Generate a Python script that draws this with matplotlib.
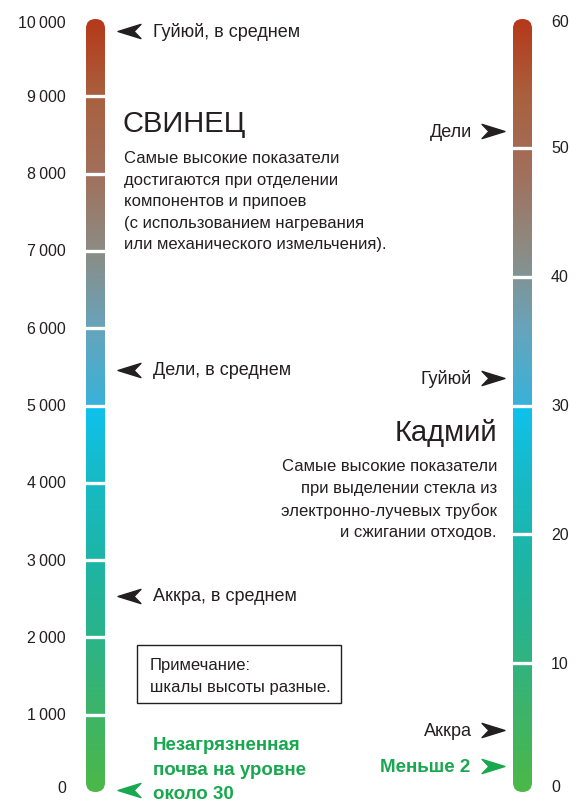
import matplotlib
matplotlib.use("Agg")
import matplotlib.pyplot as plt
import numpy as np
from matplotlib.colors import LinearSegmentedColormap
from matplotlib.patches import FancyBboxPatch, Rectangle
from matplotlib.path import Path

plt.rcParams['font.family'] = ['Liberation Sans', 'DejaVu Sans']

# Lead scale (left) and cadmium scale (right)
lead_ticks = [0, 1000, 2000, 3000, 4000, 5000, 6000, 7000, 8000, 9000, 10000]
lead_tick_labels = ["0", "1\u2009000", "2\u2009000", "3\u2009000", "4\u2009000", "5\u2009000",
                    "6\u2009000", "7\u2009000", "8\u2009000", "9\u2009000", "10\u2009000"]
lead_max = 10000
lead_marks = ["Гуйюй, в среднем", "Дели, в среднем", "Аккра, в среднем"]
lead_values = [9850, 5460, 2540]
lead_clean_label = "Незагрязненная\nпочва на уровне\nоколо 30"
lead_clean_value = 30

cad_ticks = [0, 10, 20, 30, 40, 50, 60]
cad_tick_labels = ["0", "10", "20", "30", "40", "50", "60"]
cad_max = 60
cad_marks = ["Дели", "Гуйюй", "Аккра"]
cad_values = [51.3, 32.1, 4.8]
cad_clean_label = "Меньше 2"
cad_clean_value = 2

W, H = 581, 803
fig = plt.figure(figsize=(W / 100, H / 100), dpi=100)
fig.patch.set_facecolor('white')

grad = LinearSegmentedColormap.from_list("soil", [
    (0.00, "#4cb848"),
    (0.10, "#3db468"),
    (0.20, "#2bb38a"),
    (0.30, "#1db5a6"),
    (0.40, "#17bac4"),
    (0.499, "#0fc1ec"),
    (0.50, "#38b2da"),
    (0.60, "#67a4bb"),
    (0.70, "#8c8c84"),
    (0.80, "#a1705c"),
    (0.90, "#a9613f"),
    (1.00, "#b5391a"),
])

BAR_TOP, BAR_BOT = 20, 793
DARK = "#231f20"
GREEN = "#19a84f"
TICK_FS = 11.5
MARK_FS = 13
BODY_FS = 12
HEAD_FS = 21
GREEN_FS = 13.5

# pixel-space overlay for free text
bg = fig.add_axes([0, 0, 1, 1], zorder=0)
bg.set_xlim(0, W)
bg.set_ylim(H, 0)
bg.axis('off')


def bar_axes(x0, x1, vmax):
    ax = fig.add_axes([x0 / W, 1 - BAR_BOT / H, (x1 - x0) / W, (BAR_BOT - BAR_TOP) / H], zorder=2)
    ax.set_xlim(x0, x1)
    ax.set_ylim(0, vmax)
    ax.axis('off')
    aspect = vmax / (BAR_BOT - BAR_TOP)
    patch = FancyBboxPatch((x0, 0), x1 - x0, vmax,
                           boxstyle=f"round,pad=0,rounding_size={(x1 - x0) / 2}",
                           mutation_aspect=aspect, facecolor='none', edgecolor='none')
    ax.add_patch(patch)
    g = np.linspace(0, 1, 512).reshape(-1, 1)
    im = ax.imshow(g, cmap=grad, origin='lower', extent=(x0, x1, 0, vmax),
                   aspect='auto', interpolation='bilinear')
    im.set_clip_path(patch)
    return ax


tri_left = Path([(-1, 0), (1, 0.62), (0.4, 0), (1, -0.62), (-1, 0)],
                [Path.MOVETO, Path.LINETO, Path.LINETO, Path.LINETO, Path.CLOSEPOLY])
tri_right = Path([(1, 0), (-1, 0.62), (-0.4, 0), (-1, -0.62), (1, 0)],
                 [Path.MOVETO, Path.LINETO, Path.LINETO, Path.LINETO, Path.CLOSEPOLY])

# ---- lead bar ----
axl = bar_axes(86, 105, lead_max)
for v in lead_ticks[1:-1]:
    axl.axhline(v, color='white', lw=2.4)
for v, lab in zip(lead_ticks, lead_tick_labels):
    yy = min(max(v, 60), lead_max - 40)
    axl.text(66, yy, lab, ha='right', va='center', fontsize=TICK_FS, color=DARK, clip_on=False)
for lab, v in zip(lead_marks, lead_values):
    axl.plot([129], [v], marker=tri_left, markersize=16.5, color=DARK, clip_on=False, ls='none')
    axl.text(153, v, lab, ha='left', va='center', fontsize=MARK_FS, color=DARK, clip_on=False)
axl.plot([129], [lead_clean_value], marker=tri_left, markersize=16.5, color=GREEN,
         clip_on=False, ls='none')
axl.text(153, lead_clean_value + 265, lead_clean_label, ha='left', va='center', fontsize=GREEN_FS,
         fontweight='bold', color=GREEN, clip_on=False, linespacing=1.6)

# ---- cadmium bar ----
axr = bar_axes(513, 532, cad_max)
for v in cad_ticks[1:-1]:
    axr.axhline(v, color='white', lw=2.4)
for v, lab in zip(cad_ticks, cad_tick_labels):
    yy = min(max(v, 0.45), cad_max - 0.2)
    axr.text(551, yy, lab, ha='left', va='center', fontsize=TICK_FS, color=DARK, clip_on=False)
for lab, v in zip(cad_marks, cad_values):
    axr.plot([493], [v], marker=tri_right, markersize=16.5, color=DARK, clip_on=False, ls='none')
    axr.text(472, v, lab, ha='right', va='center', fontsize=MARK_FS, color=DARK, clip_on=False)
axr.plot([493], [cad_clean_value], marker=tri_right, markersize=16.5, color=GREEN,
         clip_on=False, ls='none')
axr.text(470, cad_clean_value, cad_clean_label, ha='right', va='center', fontsize=GREEN_FS,
         fontweight='bold', color=GREEN, clip_on=False)

# ---- descriptive text ----
bg.text(123, 124, "СВИНЕЦ", ha='left', va='center', fontsize=HEAD_FS, color=DARK)
bg.text(124, 151, "Самые высокие показатели\nдостигаются при отделении\nкомпонентов и припоев\n"
        "(с использованием нагревания\nили механического измельчения).",
        ha='left', va='top', fontsize=BODY_FS, color=DARK, linespacing=1.55)

bg.text(497, 433, "Кадмий", ha='right', va='center', fontsize=HEAD_FS, color=DARK)
bg.text(497, 459, "Самые высокие показатели\nпри выделении стекла из\n"
        "электронно-лучевых трубок\nи сжигании отходов.",
        ha='right', va='top', fontsize=BODY_FS, color=DARK, linespacing=1.55, multialignment='right')

bg.add_patch(Rectangle((137, 646), 204, 58, facecolor='white', edgecolor=DARK, lw=1))
bg.text(150, 658, "Примечание:\nшкалы высоты разные.", ha='left', va='top', fontsize=BODY_FS,
        color=DARK, linespacing=1.6)

fig.savefig("out.png", dpi=100, facecolor='white')
